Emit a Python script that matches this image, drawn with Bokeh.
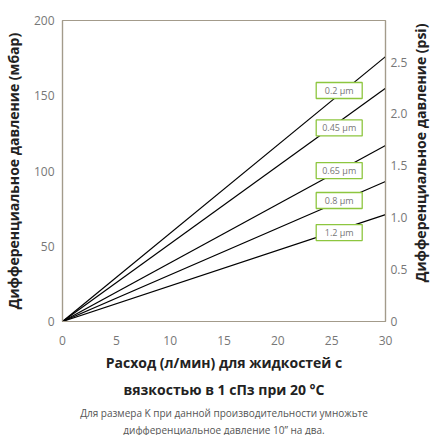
import math
from bokeh.plotting import figure
from bokeh.layouts import row
from bokeh.models import Range1d, LinearAxis, FixedTicker, CustomJSTickFormatter, Title, ColumnDataSource
from bokeh.core.properties import value
from bokeh.embed import file_html
from bokeh.resources import INLINE

# data
sizes = ["0.2 µm", "0.45 µm", "0.65 µm", "0.8 µm", "1.2 µm"]
flow = [0, 30]
dp_at_30 = [176, 155, 117, 93, 71]
label_x = [25.7, 25.7, 25.7, 25.7, 25.7]
label_y = [153.5, 128.6, 100.3, 80.4, 59.1]
x_ticks = [0, 5, 10, 15, 20, 25, 30]
y_ticks = [0, 50, 100, 150, 200]
psi_ticks = [0, 0.5, 1.0, 1.5, 2.0, 2.5]
MBAR_PER_PSI = 68.9476

FONT = "Open Sans"
AXIS_COL = "#a39b8b"
TICK_COL = "#777777"

p = figure(frame_width=323, frame_height=301, output_backend="svg", toolbar_location=None,
           x_range=Range1d(0, 30), y_range=Range1d(0, 200),
           min_border_left=10, min_border_right=25, min_border_top=20, min_border_bottom=4)
p.background_fill_color = "white"
p.grid.visible = False
p.outline_line_color = AXIS_COL
p.outline_line_width = 1.2

for v in dp_at_30:
    p.line(flow, [0, v], line_color="black", line_width=1.2)

src = ColumnDataSource(dict(x=label_x, y=label_y, t=sizes))
p.rect(x="x", y="y", width=46, height=16, width_units="screen", height_units="screen",
       source=src, fill_color="white", line_color="#8dc63f", line_width=1.3)
p.text(x="x", y="y", text="t", source=src, text_align="center", text_baseline="middle",
       text_font=value(FONT), text_font_size="9px", text_color=TICK_COL)

def style_axis(ax):
    ax.axis_line_color = AXIS_COL
    ax.axis_line_width = 1.2
    ax.major_tick_line_color = None
    ax.minor_tick_line_color = None
    ax.major_tick_out = 0
    ax.major_tick_in = 0
    ax.minor_tick_out = 0
    ax.minor_tick_in = 0
    ax.major_label_text_font = FONT
    ax.major_label_text_font_size = "12px"
    ax.major_label_text_color = TICK_COL
    ax.axis_label_text_font = FONT
    ax.axis_label_text_font_style = "bold"
    ax.axis_label_text_font_size = "14px"
    ax.axis_label_text_color = "#222222"

xa = p.xaxis[0]
xa.ticker = FixedTicker(ticks=x_ticks)
style_axis(xa)
xa.major_label_standoff = 14
xa.axis_label = "Расход (л/мин) для жидкостей с\nвязкостью в 1 сПз при 20 °C"
xa.axis_label_text_line_height = 1.45
xa.axis_label_standoff = 5

ya = p.yaxis[0]
ya.ticker = FixedTicker(ticks=y_ticks)
style_axis(ya)
ya.major_label_standoff = 8
ya.axis_label = "Дифференциальное давление (мбар)"
ya.axis_label_standoff = 8

p.extra_y_ranges = {"psi": Range1d(0, 200 / MBAR_PER_PSI)}
ra = LinearAxis(y_range_name="psi", ticker=FixedTicker(ticks=psi_ticks),
                formatter=CustomJSTickFormatter(code="return tick === 0 ? '0' : tick.toFixed(1);"))
style_axis(ra)
ra.major_label_standoff = 5
p.add_layout(ra, "right")

for i, line in enumerate(["Для размера K при данной производительности умножьте",
                          "дифференциальное давление 10” на два."]):
    t = Title(text=line, align="center", text_font=FONT, text_font_size="10px",
              text_font_style="normal", text_color="#555555", offset=0,
              standoff=2 if i == 0 else 0, text_line_height=1.35)
    p.add_layout(t, "below")

# narrow strip carrying the right-hand axis title (reads bottom to top)
right_title = ["Дифференциальное давление (psi)"]
p2 = figure(width=20, height=435, output_backend="svg", toolbar_location=None,
            x_range=Range1d(0, 20), y_range=Range1d(0, 435),
            x_axis_type=None, y_axis_type=None,
            min_border_left=0, min_border_right=0, min_border_top=0, min_border_bottom=0)
p2.outline_line_color = None
p2.text(x=[10], y=[243], text=right_title, angle=math.pi / 2,
        text_align="center", text_baseline="middle", text_font=value(FONT),
        text_font_size="14px", text_font_style="bold", text_color="#222222")

layout = row(p, p2, spacing=0)
open("out.html", "w").write(file_html(layout, INLINE))
